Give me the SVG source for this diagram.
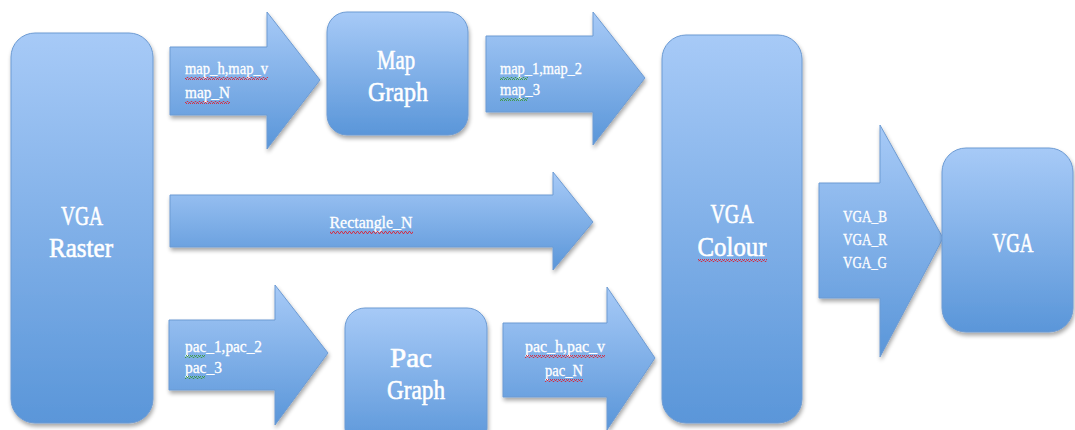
<svg xmlns="http://www.w3.org/2000/svg" width="1075" height="430" viewBox="0 0 1075 430">
<defs>
<linearGradient id="g" x1="0" y1="0" x2="0" y2="1">
<stop offset="0" stop-color="#a7caf7"/>
<stop offset="1" stop-color="#5a96d9"/>
</linearGradient>
<filter id="sh" x="-10%" y="-10%" width="130%" height="130%">
<feGaussianBlur in="SourceAlpha" stdDeviation="2"/>
<feOffset dx="1" dy="3"/>
<feComponentTransfer><feFuncA type="linear" slope="0.35"/></feComponentTransfer>
<feMerge><feMergeNode/><feMergeNode in="SourceGraphic"/></feMerge>
</filter>
<pattern id="wr" width="4" height="3" patternUnits="userSpaceOnUse">
<path d="M0,2.5 L1,0.5 L2,0.5 L3,2.5 L4,2.5" fill="none" stroke="#d8263a" stroke-width="0.9"/>
</pattern>
<pattern id="wg" width="4" height="3" patternUnits="userSpaceOnUse">
<path d="M0,2.5 L1,0.5 L2,0.5 L3,2.5 L4,2.5" fill="none" stroke="#3c9a3c" stroke-width="0.9"/>
</pattern>
</defs>
<style>
.box{fill:url(#g);stroke:#6d9bd3;stroke-width:1;filter:url(#sh)}
.arr{fill:url(#g);stroke:#6d9bd3;stroke-width:1;filter:url(#sh)}
.big{font-family:"Liberation Serif","DejaVu Serif",serif;font-size:28px;fill:#fff;stroke:#fff;stroke-width:0.6;text-anchor:middle}
.lbl{font-family:"Liberation Serif","DejaVu Serif",serif;font-size:17px;fill:#fff;stroke:#fff;stroke-width:0.3}
.mid{text-anchor:middle}
.sqr{fill:url(#wr)}
.sqg{fill:url(#wg)}
</style>
<g id="connectors">
<g id="arrow-map-in">
<path class="arr" d="M170,47 H267 V12 L320,80 L267,149 V115 H170 Z"/>
<text class="lbl"><tspan x="185" y="74" textLength="83" lengthAdjust="spacingAndGlyphs">map_h,map_v</tspan><tspan x="185" y="98" textLength="45" lengthAdjust="spacingAndGlyphs">map_N</tspan></text>
<rect class="sqr" x="185" y="77" width="83" height="3"/>
<rect class="sqr" x="185" y="101" width="45" height="3"/>
</g>
<g id="arrow-map-out">
<path class="arr" d="M486,36 H593 V12 L645,78 L593,145 V112 H486 Z"/>
<text class="lbl"><tspan x="500" y="74" textLength="82" lengthAdjust="spacingAndGlyphs">map_1,map_2</tspan><tspan x="500" y="95" textLength="40" lengthAdjust="spacingAndGlyphs">map_3</tspan></text>
<rect class="sqg" x="500" y="77" width="28" height="3"/>
<rect class="sqg" x="500" y="98" width="28" height="3"/>
</g>
<g id="arrow-rect">
<path class="arr" d="M170,195 H553 V172 L593,222 L553,270 V247 H170 Z"/>
<text class="lbl mid" x="371" y="228" textLength="83" lengthAdjust="spacingAndGlyphs">Rectangle_N</text>
<rect class="sqr" x="330" y="231" width="83" height="3"/>
</g>
<g id="arrow-pac-in">
<path class="arr" d="M169,320 H275 V285 L328,353 L275,425 V390 H169 Z"/>
<text class="lbl"><tspan x="185" y="352" textLength="77" lengthAdjust="spacingAndGlyphs">pac_1,pac_2</tspan><tspan x="185" y="373" textLength="37" lengthAdjust="spacingAndGlyphs">pac_3</tspan></text>
<rect class="sqg" x="185" y="355" width="20" height="3"/>
<rect class="sqg" x="185" y="376" width="20" height="3"/>
</g>
<g id="arrow-pac-out">
<path class="arr" d="M503,323 H607 V287 L655,358 L607,430 V397 H503 Z"/>
<text class="lbl mid"><tspan x="565" y="352" textLength="80" lengthAdjust="spacingAndGlyphs">pac_h,pac_v</tspan><tspan x="564" y="376" textLength="38" lengthAdjust="spacingAndGlyphs">pac_N</tspan></text>
<rect class="sqr" x="525" y="355" width="80" height="3"/>
<rect class="sqr" x="545" y="379" width="38" height="3"/>
</g>
<g id="arrow-vga">
<path class="arr" d="M819,183 H880 V125 L943,238 L880,357 V298 H819 Z"/>
<text class="lbl mid"><tspan x="865" y="222" textLength="44" lengthAdjust="spacingAndGlyphs">VGA_B</tspan><tspan x="865" y="245" textLength="44" lengthAdjust="spacingAndGlyphs">VGA_R</tspan><tspan x="865" y="268" textLength="44" lengthAdjust="spacingAndGlyphs">VGA_G</tspan></text>
</g>
</g>
<g id="vga-raster">
<rect class="box" x="11" y="33" width="142" height="390" rx="24"/>
<text class="big"><tspan x="82" y="225" textLength="42" lengthAdjust="spacingAndGlyphs">VGA</tspan><tspan x="81" y="257" textLength="64" lengthAdjust="spacingAndGlyphs">Raster</tspan></text>
</g>
<g id="map-graph">
<rect class="box" x="327" y="12" width="141" height="123" rx="20"/>
<text class="big"><tspan x="396" y="69" textLength="38" lengthAdjust="spacingAndGlyphs">Map</tspan><tspan x="398" y="101" textLength="60" lengthAdjust="spacingAndGlyphs">Graph</tspan></text>
</g>
<g id="vga-colour">
<rect class="box" x="662" y="35" width="140" height="388" rx="24"/>
<text class="big"><tspan x="732" y="223" textLength="43" lengthAdjust="spacingAndGlyphs">VGA</tspan><tspan x="732" y="256" textLength="69" lengthAdjust="spacingAndGlyphs">Colour</tspan></text>
<rect class="sqr" x="698" y="259" width="69" height="3"/>
</g>
<g id="pac-graph">
<rect class="box" x="345" y="308" width="142" height="140" rx="20"/>
<text class="big"><tspan x="411" y="367" textLength="42" lengthAdjust="spacingAndGlyphs">Pac</tspan><tspan x="416" y="399" textLength="58" lengthAdjust="spacingAndGlyphs">Graph</tspan></text>
</g>
<g id="vga">
<rect class="box" x="942" y="148" width="131" height="184" rx="24"/>
<text class="big" x="1013" y="252" textLength="41" lengthAdjust="spacingAndGlyphs">VGA</text>
</g>
</svg>
